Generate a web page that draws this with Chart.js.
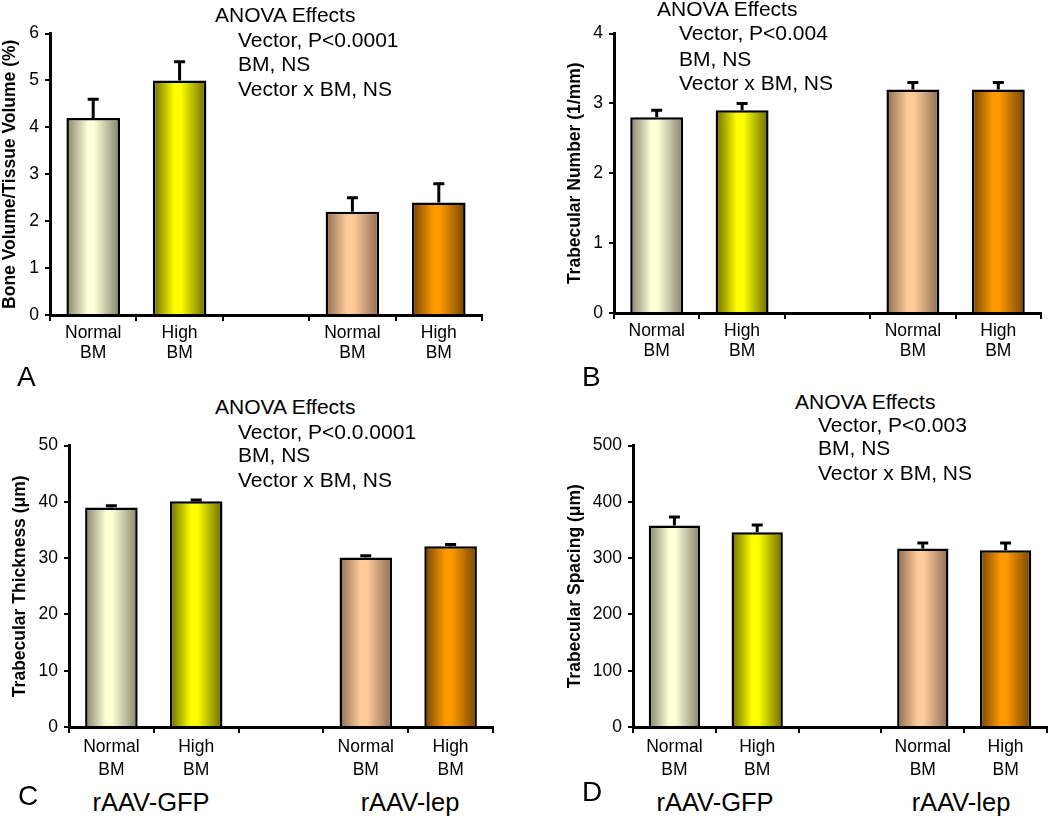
<!DOCTYPE html>
<html>
<head>
<meta charset="utf-8">
<script src="https://cdn.jsdelivr.net/npm/chart.js@4/dist/chart.umd.min.js"></script>
<style>
  body { margin: 0; background: #fff; }
  #page { position: relative; width: 1050px; height: 816px; overflow: hidden; font-family: "Liberation Sans", Arial, sans-serif; color: #000; }
  .panel { position: absolute; }
  .txt { position: absolute; white-space: nowrap; line-height: 24px; font-size: 21px; }
  .letter { position: absolute; white-space: nowrap; font-size: 28px; line-height: 32px; }
  .vec { position: absolute; white-space: nowrap; font-size: 25.5px; line-height: 30px; transform: translateX(-50%); }
</style>
</head>
<body>
<div id="page">
  <div class="panel" id="pA"><canvas id="chartA"></canvas></div>
  <div class="panel" id="pB"><canvas id="chartB"></canvas></div>
  <div class="panel" id="pC"><canvas id="chartC"></canvas></div>
  <div class="panel" id="pD"><canvas id="chartD"></canvas></div>

  <div class="txt" style="left:215px;top:3px">ANOVA Effects</div>
  <div class="txt" style="left:238px;top:28px">Vector, P&lt;0.0001</div>
  <div class="txt" style="left:238px;top:52px">BM, NS</div>
  <div class="txt" style="left:238px;top:77px">Vector x BM, NS</div>

  <div class="txt" style="left:657px;top:-3px">ANOVA Effects</div>
  <div class="txt" style="left:679px;top:21px">Vector, P&lt;0.004</div>
  <div class="txt" style="left:679px;top:47px">BM, NS</div>
  <div class="txt" style="left:679px;top:71px">Vector x BM, NS</div>

  <div class="txt" style="left:215px;top:395px">ANOVA Effects</div>
  <div class="txt" style="left:238px;top:420px">Vector, P&lt;0.0.0001</div>
  <div class="txt" style="left:238px;top:443px">BM, NS</div>
  <div class="txt" style="left:238px;top:468px">Vector x BM, NS</div>

  <div class="txt" style="left:795px;top:390px">ANOVA Effects</div>
  <div class="txt" style="left:818px;top:413px">Vector, P&lt;0.003</div>
  <div class="txt" style="left:818px;top:436px">BM, NS</div>
  <div class="txt" style="left:818px;top:461px">Vector x BM, NS</div>

  <div class="letter" style="left:17px;top:361px">A</div>
  <div class="letter" style="left:582px;top:361px">B</div>
  <div class="letter" style="left:18px;top:780px">C</div>
  <div class="letter" style="left:582px;top:776px">D</div>

  <div class="vec" style="left:151px;top:787px">rAAV-GFP</div>
  <div class="vec" style="left:410px;top:787px">rAAV-lep</div>
  <div class="vec" style="left:715px;top:787px">rAAV-GFP</div>
  <div class="vec" style="left:961px;top:787px">rAAV-lep</div>
</div>
<script>
// categories (third slot is the empty gap between vectors)
var groups = [['Normal', 'BM'], ['High', 'BM'], '', ['Normal', 'BM'], ['High', 'BM']];

var boneVolume = [4.2, 5.0, null, 2.2, 2.4];
var boneVolumeErr = [0.4, 0.4, null, 0.3, 0.4];
var trabNumber = [2.8, 2.9, null, 3.2, 3.2];
var trabNumberErr = [0.1, 0.1, null, 0.1, 0.1];
var trabThickness = [39, 40.1, null, 30.1, 32.1];
var trabThicknessErr = [0.3, 0.2, null, 0.3, 0.3];
var trabSpacing = [358, 346, null, 317, 314];
var trabSpacingErr = [15, 13, null, 10, 13];

// edge / centre colours of the shaded bars
var edgeColors = ['#83836a', '#6b6b00', '#8c6c52', '#744400', '#000'];
var centerColors = ['#ffffd8', '#ffff00', '#ffcc99', '#ff9900', '#000'];
var colorIndex = [0, 1, 4, 2, 3];

var errorBars = {
    id: 'errorBars',
    afterDatasetsDraw: function (chart, args, opts) {
        var ctx = chart.ctx;
        var y = chart.scales.y;
        var meta = chart.getDatasetMeta(0);
        var values = chart.data.datasets[0].data;
        meta.data.forEach(function (bar, i) {
            var v = values[i], e = opts.errors[i];
            if (v == null || e == null) return;
            var top = y.getPixelForValue(v + e);
            ctx.save();
            ctx.strokeStyle = '#000';
            ctx.lineWidth = 3;
            ctx.beginPath();
            ctx.moveTo(bar.x, bar.y);
            ctx.lineTo(bar.x, top);
            ctx.moveTo(bar.x - 5.5, top);
            ctx.lineTo(bar.x + 5.5, top);
            ctx.stroke();
            ctx.restore();
        });
    }
};

function barFill(c) {
    var chart = c.chart;
    var area = chart.chartArea;
    var k = colorIndex[c.dataIndex];
    if (!area || !chart.scales.x) return centerColors[k];
    var slot = (area.right - area.left) / groups.length;
    var cx = chart.scales.x.getPixelForValue(c.dataIndex);
    var half = slot * 0.62 / 2;
    var g = chart.ctx.createLinearGradient(cx - half, 0, cx + half, 0);
    g.addColorStop(0, edgeColors[k]);
    g.addColorStop(0.4, centerColors[k]);
    g.addColorStop(0.52, centerColors[k]);
    g.addColorStop(1, edgeColors[k]);
    return g;
}

function makePanel(id, box, values, errors, max, step, title, labelLine) {
    var padTop = 14, padRight = 8, xAxisH = 52;
    var div = document.getElementById('p' + id);
    var w = box.right + padRight - box.left;
    var h = box.zero + xAxisH - (box.top - padTop);
    div.style.left = box.left + 'px';
    div.style.top = (box.top - padTop) + 'px';
    div.style.width = w + 'px';
    div.style.height = h + 'px';
    var canvas = document.getElementById('chart' + id);
    canvas.width = w;
    canvas.height = h;
    return new Chart(canvas, {
        type: 'bar',
        data: {
            labels: groups,
            datasets: [{
                data: values,
                backgroundColor: barFill,
                borderColor: '#000',
                borderWidth: 2.5,
                barPercentage: 0.62,
                categoryPercentage: 1
            }]
        },
        options: {
            responsive: false,
            animation: false,
            layout: { padding: { top: padTop, right: padRight, left: 0, bottom: 0 } },
            plugins: {
                legend: { display: false },
                tooltip: { enabled: false },
                errorBars: { errors: errors }
            },
            scales: {
                x: {
                    afterFit: function (s) { s.height = xAxisH; },
                    border: { color: '#000', width: 3 },
                    grid: { drawOnChartArea: false, drawTicks: true, tickLength: 6, color: '#000', lineWidth: 2 },
                    ticks: {
                        color: '#000', autoRotate: false, maxRotation: 0, autoSkip: false, padding: 2,
                        font: { family: 'Liberation Sans', size: 17.5, lineHeight: labelLine }
                    }
                },
                y: {
                    min: 0,
                    max: max,
                    afterFit: function (s) { s.width = box.axis - box.left; },
                    border: { color: '#000', width: 3 },
                    grid: { drawOnChartArea: false, drawTicks: true, tickLength: 5, color: '#000', lineWidth: 2 },
                    ticks: { stepSize: step, color: '#000', padding: 6, font: { family: 'Liberation Sans', size: 17.5 } },
                    title: {
                        display: true,
                        text: title,
                        color: '#000',
                        padding: { top: box.titlePad, bottom: 0 },
                        font: { family: 'Liberation Sans', size: 17.5, weight: 'bold', lineHeight: 1.2 }
                    }
                }
            }
        },
        plugins: [errorBars]
    });
}

makePanel('A', { left: 0, axis: 50, top: 31, zero: 315, right: 482, titlePad: 0 },
    boneVolume, boneVolumeErr, 6, 1, 'Bone Volume/Tissue Volume (%)', 1.15);
makePanel('B', { left: 555, axis: 614, top: 31, zero: 313, right: 1041, titlePad: 9.5 },
    trabNumber, trabNumberErr, 4, 1, 'Trabecular Number (1/mm)', 1.15);
makePanel('C', { left: 0, axis: 69, top: 443, zero: 727, right: 493, titlePad: 9.5 },
    trabThickness, trabThicknessErr, 50, 10, 'Trabecular Thickness (\u03bcm)', 1.35);
makePanel('D', { left: 555, axis: 633, top: 443, zero: 727, right: 1047, titlePad: 9.5 },
    trabSpacing, trabSpacingErr, 500, 100, 'Trabecular Spacing (\u03bcm)', 1.35);
</script>
</body>
</html>
